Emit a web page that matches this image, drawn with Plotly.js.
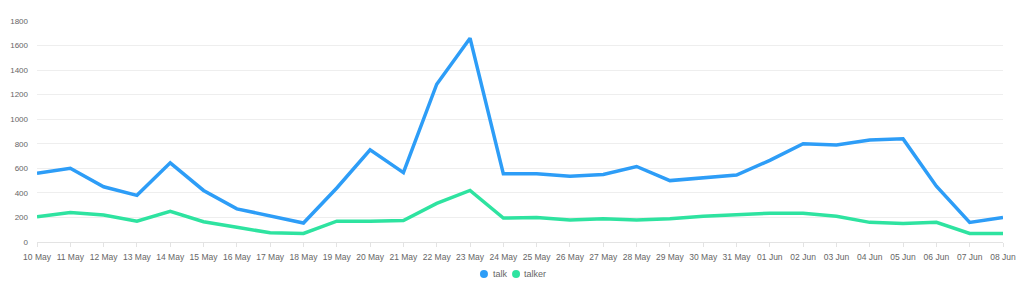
<!DOCTYPE html>
<html>
<head>
<meta charset="utf-8">
<script src="https://cdn.plot.ly/plotly-3.0.1.min.js"></script>
<style>html,body{margin:0;padding:0;background:#fff;}#chart{width:1024px;height:281px;}</style>
</head>
<body>
<div id="chart"></div>
<script>
const dates = ["10 May","11 May","12 May","13 May","14 May","15 May","16 May","17 May","18 May","19 May","20 May","21 May","22 May","23 May","24 May","25 May","26 May","27 May","28 May","29 May","30 May","31 May","01 Jun","02 Jun","03 Jun","04 Jun","05 Jun","06 Jun","07 Jun","08 Jun"];
const talk = [560,600,450,380,645,420,270,210,155,440,750,565,1285,1660,555,555,535,550,615,500,520,545,665,800,790,830,840,455,160,200];
const talker = [205,240,220,170,250,165,120,75,70,170,170,175,315,420,195,200,180,190,180,190,210,225,235,235,210,160,150,160,70,70];
const yTicks = [0,200,400,600,800,1000,1200,1400,1600,1800];
const seriesNames = ['talk', 'talker'];

const cTalk = '#2d9df7';
const cTalker = '#2ee3a0';
const colors = [cTalk, cTalker];

const traces = [
  {x: dates, y: talk, type: 'scatter', mode: 'lines', name: seriesNames[0],
   line: {color: cTalk, width: 3.5}},
  {x: dates, y: talker, type: 'scatter', mode: 'lines', name: seriesNames[1],
   line: {color: cTalker, width: 3.5}}
];

// custom legend (circle + text) positioned below the plot
const legY = -0.145;
const legX = [0.4627, 0.4959];
const legTextX = [0.4695, 0.5025];
const shapes = seriesNames.map((n, i) => ({
  type: 'circle', xref: 'paper', yref: 'paper', xsizemode: 'pixel', ysizemode: 'pixel',
  xanchor: legX[i], yanchor: legY, x0: -4, x1: 4, y0: -4, y1: 4,
  fillcolor: colors[i], line: {width: 0}
}));
const annotations = seriesNames.map((n, i) => ({
  text: n, xref: 'paper', yref: 'paper', x: legTextX[i], y: legY,
  xanchor: 'left', yanchor: 'middle', showarrow: false,
  font: {size: 9, color: '#666'}
}));

const layout = {
  width: 1024, height: 281,
  margin: {l: 37, r: 21, t: 21, b: 39},
  paper_bgcolor: '#fff', plot_bgcolor: '#fff',
  font: {family: '"Liberation Sans", Arial, sans-serif', size: 8, color: '#666'},
  showlegend: false,
  shapes: shapes,
  annotations: annotations,
  xaxis: {type: 'category', range: [0, dates.length - 1], showgrid: false,
          showline: true, linecolor: '#e3e3e3', linewidth: 1,
          ticks: 'outside', ticklen: 4, tickcolor: '#e3e3e3',
          ticklabelstandoff: 3,
          tickfont: {size: 8.5, color: '#666'}, zeroline: false, fixedrange: true},
  yaxis: {range: [0, 1800], tickvals: yTicks, ticktext: yTicks.map(String),
          showgrid: true, gridcolor: '#eeeeee', gridwidth: 1, zeroline: false,
          showline: false, ticks: '', ticklen: 0, tickfont: {size: 8, color: '#666'},
          ticklabelstandoff: 8, fixedrange: true}
};

Plotly.newPlot('chart', traces, layout, {displayModeBar: false, staticPlot: true});
</script>
</body>
</html>
